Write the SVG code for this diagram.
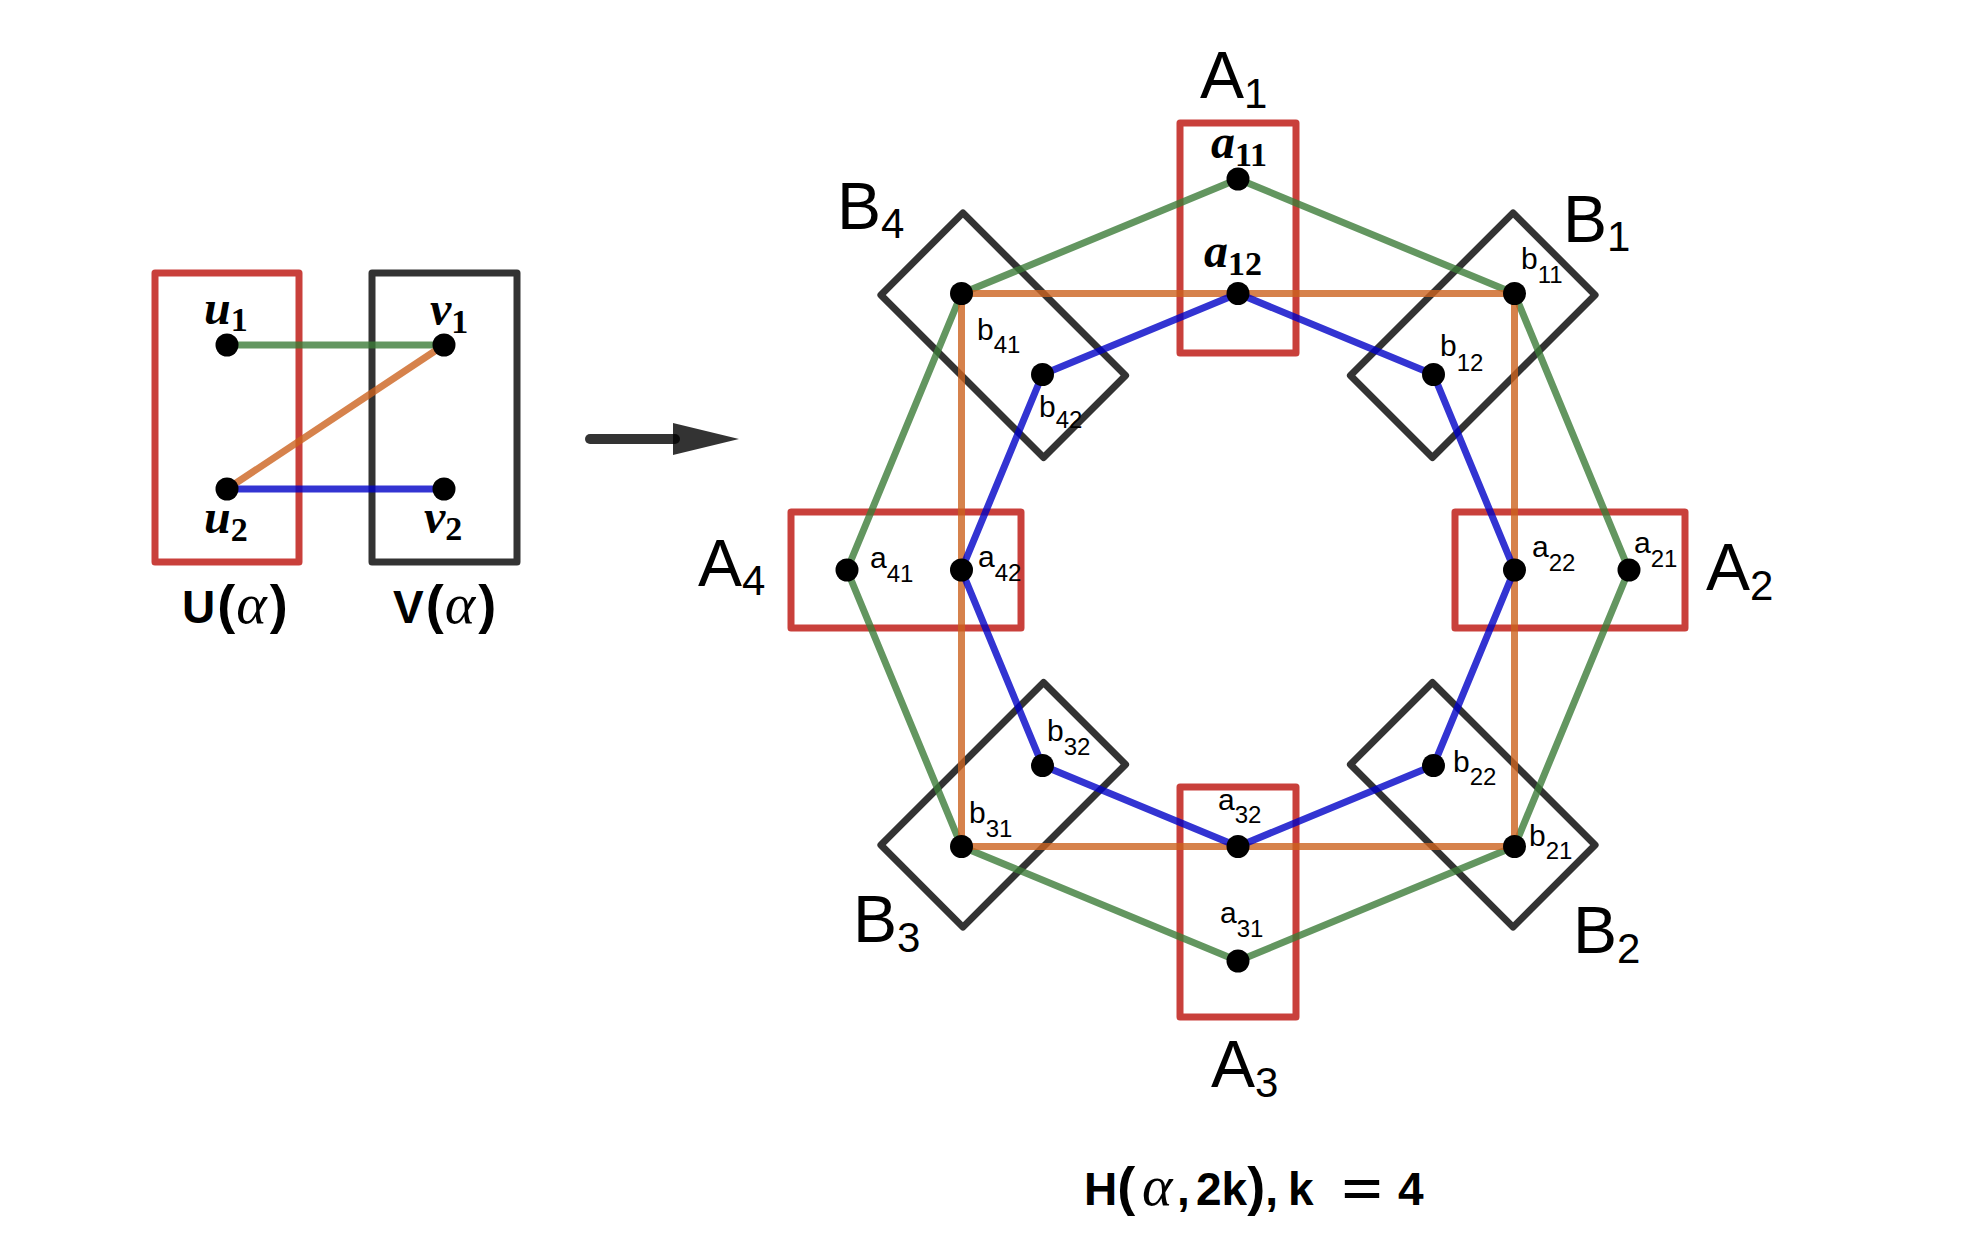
<svg xmlns="http://www.w3.org/2000/svg" width="1962" height="1254" viewBox="0 0 1962 1254">
<style>
  .box { fill: none; stroke-width: 7; stroke-linejoin: round; stroke-linecap: round; stroke-opacity: 0.8; }
  .red { stroke: #bb100a; }
  .blk { stroke: #000000; }
  .edge { fill: none; stroke-width: 7; stroke-linejoin: round; stroke-linecap: round; stroke-opacity: 0.8; }
  .g { stroke: #3c7c38; }
  .o { stroke: #cc631f; }
  .b { stroke: #0001c7; }
  .dot { fill: #000; }
  .big { font-family: "Liberation Sans", Arial, sans-serif; font-size: 66px; fill: #000; }
  .bigsub { font-size: 42px; }
  .sm { font-family: "Liberation Sans", Arial, sans-serif; font-size: 30px; fill: #000; }
  .smsub { font-size: 24px; }
  .math { font-family: "Liberation Serif", "Times New Roman", serif; font-size: 48px; font-style: italic; font-weight: bold; fill: #000; }
  .mathsub { font-style: normal; font-size: 34px; }
  .cap { font-family: "Liberation Sans", Arial, sans-serif; font-size: 46px; font-weight: bold; fill: #000; }
  .gr { font-family: "Liberation Serif", "Times New Roman", serif; font-style: italic; font-weight: normal; font-size: 58px; }
  .par { font-family: "Liberation Sans", Arial, sans-serif; font-size: 54px; font-weight: bold; }
</style>
<defs>
  <rect id="slot" x="-58" y="-115" width="116" height="230"/>
</defs>
<rect width="1962" height="1254" fill="#ffffff"/>

<!-- Left figure -->
<g id="U-box"><rect class="box red" x="155" y="273" width="144" height="289"/></g>
<g id="V-box"><rect class="box blk" x="372" y="273" width="145" height="289"/></g>
<g id="left-connectors">
  <line class="edge g" x1="227" y1="345" x2="444" y2="345"/>
  <line class="edge o" x1="227" y1="489" x2="444" y2="345"/>
  <line class="edge b" x1="227" y1="489" x2="444" y2="489"/>
</g>
<g id="u1"><circle class="dot" cx="227" cy="345" r="11.5"/><text class="math" x="204" y="324">u<tspan class="mathsub" dy="7">1</tspan></text></g>
<g id="v1"><circle class="dot" cx="444" cy="345" r="11.5"/><text class="math" x="430" y="325">v<tspan class="mathsub" dy="8">1</tspan></text></g>
<g id="u2"><circle class="dot" cx="227" cy="489" r="11.5"/><text class="math" x="204" y="533">u<tspan class="mathsub" dy="8">2</tspan></text></g>
<g id="v2"><circle class="dot" cx="444" cy="489" r="11.5"/><text class="math" x="424" y="533">v<tspan class="mathsub" dy="7">2</tspan></text></g>
<g id="U-label"><text class="cap" x="182" y="623">U<tspan class="par" dx="2">(</tspan><tspan class="gr" dx="1">α</tspan><tspan class="par" dx="3">)</tspan></text></g>
<g id="V-label"><text class="cap" x="393" y="623">V<tspan class="par" dx="2">(</tspan><tspan class="gr" dx="1">α</tspan><tspan class="par" dx="3">)</tspan></text></g>

<!-- Arrow -->
<g id="arrow">
  <line x1="590" y1="439" x2="675" y2="439" stroke="#000" stroke-opacity="0.8" stroke-width="10" stroke-linecap="round"/>
  <polygon points="673,423 739,439 673,455" fill="#000" fill-opacity="0.8"/>
</g>

<!-- Right figure: slots -->
<g id="A1"><use href="#slot" class="box red" transform="translate(1238 570) rotate(0) translate(0 -332)"/></g>
<g id="B1"><use href="#slot" class="box blk" transform="translate(1238 570) rotate(45) translate(0 -332)"/></g>
<g id="A2"><use href="#slot" class="box red" transform="translate(1238 570) rotate(90) translate(0 -332)"/></g>
<g id="B2"><use href="#slot" class="box blk" transform="translate(1238 570) rotate(135) translate(0 -332)"/></g>
<g id="A3"><use href="#slot" class="box red" transform="translate(1238 570) rotate(180) translate(0 -332)"/></g>
<g id="B3"><use href="#slot" class="box blk" transform="translate(1238 570) rotate(225) translate(0 -332)"/></g>
<g id="A4"><use href="#slot" class="box red" transform="translate(1238 570) rotate(270) translate(0 -332)"/></g>
<g id="B4"><use href="#slot" class="box blk" transform="translate(1238 570) rotate(315) translate(0 -332)"/></g>

<!-- Connectors -->
<g id="connectors">
  <polygon class="edge g" points="1238,179 1514.5,293.5 1629,570 1514.5,846.5 1238,961 961.5,846.5 847,570 961.5,293.5"/>
  <polygon class="edge o" points="1514.5,293.5 1514.5,846.5 961.5,846.5 961.5,293.5"/>
  <polygon class="edge b" points="1238,293.5 1433.5,374.5 1514.5,570 1433.5,765.5 1238,846.5 1042.5,765.5 961.5,570 1042.5,374.5"/>
</g>

<!-- Vertices -->
<g id="a11"><circle class="dot" cx="1238" cy="179" r="11.5"/><text class="math" x="1211" y="158">a<tspan class="mathsub" dy="8">11</tspan></text></g>
<g id="a12"><circle class="dot" cx="1238" cy="293.5" r="11.5"/><text class="math" x="1204" y="267">a<tspan class="mathsub" dy="8">12</tspan></text></g>
<g id="b11"><circle class="dot" cx="1514.5" cy="293.5" r="11.5"/><text class="sm" x="1521" y="269">b<tspan class="smsub" dy="14">11</tspan></text></g>
<g id="b12"><circle class="dot" cx="1433.5" cy="374.5" r="11.5"/><text class="sm" x="1440" y="356">b<tspan class="smsub" dy="15">12</tspan></text></g>
<g id="a21"><circle class="dot" cx="1629" cy="570" r="11.5"/><text class="sm" x="1634" y="553">a<tspan class="smsub" dy="14">21</tspan></text></g>
<g id="a22"><circle class="dot" cx="1514.5" cy="570" r="11.5"/><text class="sm" x="1532" y="557">a<tspan class="smsub" dy="14">22</tspan></text></g>
<g id="b21"><circle class="dot" cx="1514.5" cy="846.5" r="11.5"/><text class="sm" x="1529" y="846">b<tspan class="smsub" dy="13">21</tspan></text></g>
<g id="b22"><circle class="dot" cx="1433.5" cy="765.5" r="11.5"/><text class="sm" x="1453" y="772">b<tspan class="smsub" dy="13">22</tspan></text></g>
<g id="a31"><circle class="dot" cx="1238" cy="961" r="11.5"/><text class="sm" x="1220" y="923">a<tspan class="smsub" dy="14">31</tspan></text></g>
<g id="a32"><circle class="dot" cx="1238" cy="846.5" r="11.5"/><text class="sm" x="1218" y="810">a<tspan class="smsub" dy="13">32</tspan></text></g>
<g id="b31"><circle class="dot" cx="961.5" cy="846.5" r="11.5"/><text class="sm" x="969" y="823">b<tspan class="smsub" dy="14">31</tspan></text></g>
<g id="b32"><circle class="dot" cx="1042.5" cy="765.5" r="11.5"/><text class="sm" x="1047" y="741">b<tspan class="smsub" dy="14">32</tspan></text></g>
<g id="a41"><circle class="dot" cx="847" cy="570" r="11.5"/><text class="sm" x="870" y="568">a<tspan class="smsub" dy="14">41</tspan></text></g>
<g id="a42"><circle class="dot" cx="961.5" cy="570" r="11.5"/><text class="sm" x="978" y="567">a<tspan class="smsub" dy="14">42</tspan></text></g>
<g id="b41"><circle class="dot" cx="961.5" cy="293.5" r="11.5"/><text class="sm" x="977" y="340">b<tspan class="smsub" dy="13">41</tspan></text></g>
<g id="b42"><circle class="dot" cx="1042.5" cy="374.5" r="11.5"/><text class="sm" x="1039" y="417">b<tspan class="smsub" dy="11">42</tspan></text></g>

<!-- Set labels -->
<text class="big" x="1200" y="98">A<tspan class="bigsub" dy="10">1</tspan></text>
<text class="big" x="1563" y="242">B<tspan class="bigsub" dy="9">1</tspan></text>
<text class="big" x="1706" y="590">A<tspan class="bigsub" dy="10">2</tspan></text>
<text class="big" x="1573" y="953">B<tspan class="bigsub" dy="10">2</tspan></text>
<text class="big" x="1211" y="1087">A<tspan class="bigsub" dy="10">3</tspan></text>
<text class="big" x="853" y="942">B<tspan class="bigsub" dy="10">3</tspan></text>
<text class="big" x="698" y="586">A<tspan class="bigsub" dy="9">4</tspan></text>
<text class="big" x="837" y="229">B<tspan class="bigsub" dy="9">4</tspan></text>

<g id="caption">
  <text class="cap" x="1084" y="1205">H<tspan class="par">(</tspan><tspan class="gr" x="1142">α</tspan><tspan x="1177">,</tspan><tspan x="1196">2k</tspan><tspan class="par">)</tspan><tspan>,</tspan><tspan x="1288">k</tspan><tspan x="1398">4</tspan></text>
  <text class="cap" x="1342" y="1205" textLength="40" lengthAdjust="spacingAndGlyphs">=</text>
</g>
</svg>
